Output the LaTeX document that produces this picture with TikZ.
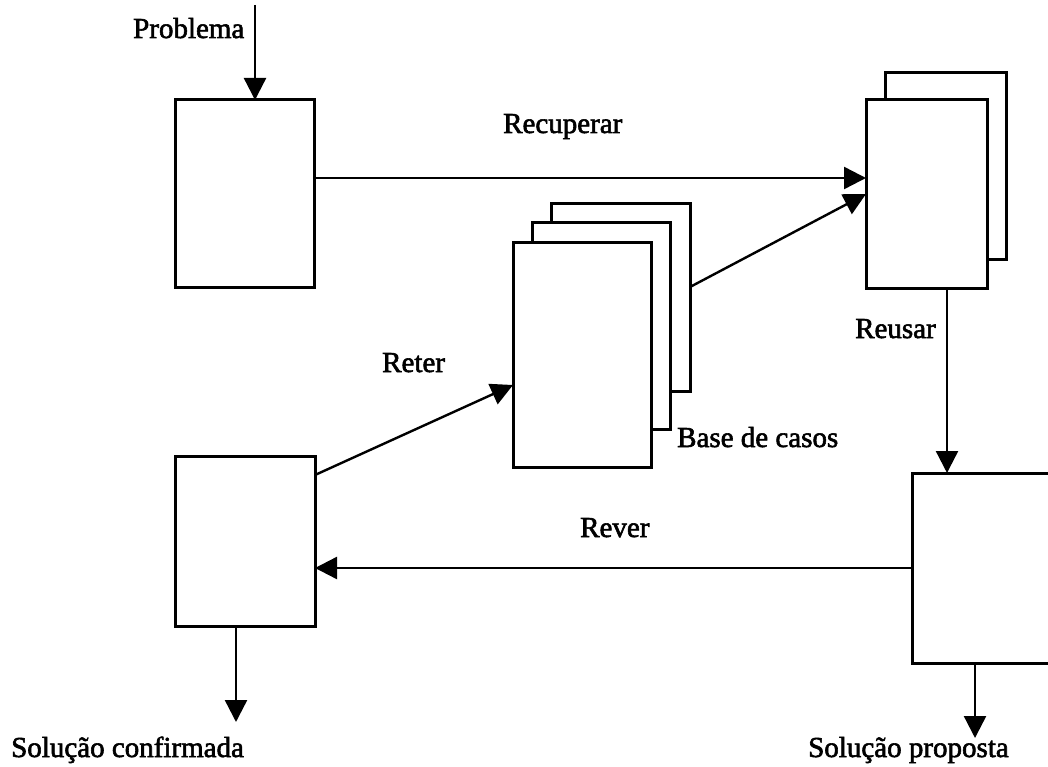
\documentclass[tikz,border=0pt]{standalone}
\usepackage{fontspec}
\setmainfont{Liberation Serif}
\newfontfamily\labelfont[FakeBold=2]{Liberation Serif}
\usetikzlibrary{arrows.meta,calc}
\begin{document}
\begin{tikzpicture}[x=1pt,y=-1pt,
  card/.style={draw,fill=white,line width=3pt,inner sep=0pt,outer sep=0pt},
  arr/.style={line width=2.4pt,-{Triangle[length=22pt,width=22pt]}},
  lbl/.style={anchor=base west,inner sep=0pt,font=\labelfont\fontsize{29}{34}\selectfont}]
\useasboundingbox (0,0) rectangle (1048,767);
\clip (0,0) rectangle (1048,767);

% problem case
\node[card,minimum width=139pt,minimum height=187pt] (prob) at (244.5,193.5) {};
% retrieved cases (two sheets)
\node[card,minimum width=121pt,minimum height=186pt] (retB) at (945.5,166) {};
\node[card,minimum width=121pt,minimum height=188pt] (ret) at (926.5,194) {};
% case base (three sheets)
\node[card,minimum width=139pt,minimum height=187pt] (baseC) at (620.5,297.5) {};
\node[card,minimum width=138pt,minimum height=206pt] (baseB) at (601,326) {};
\node[card,minimum width=138pt,minimum height=225pt] (base) at (582,354.5) {};
% confirmed and proposed solutions
\node[card,minimum width=140pt,minimum height=170pt] (conf) at (245,541) {};
\node[card,minimum width=158pt,minimum height=190pt] (prop) at (991,568) {};

% free ends
\coordinate (pin) at (255,5);
\coordinate (confout) at (236,722);
\coordinate (propout) at (975,738);

% connectors
\draw[arr] (pin) -- (pin |- prob.north);
\draw[arr] ([yshift=15.5pt]prob.east) -- ([yshift=15.5pt]prob.east -| ret.west);
\draw[arr] ([yshift=10.5pt]baseC.east) -- (ret.west);
\draw[arr] ([xshift=20.5pt]ret.south) -- ([xshift=20.5pt]ret.south |- prop.north);
\draw[arr] (prop.west) -- (prop.west -| conf.east);
\draw[arr] ([yshift=66pt]conf.east) -- ([yshift=-30.5pt]base.west);
\draw[arr] (confout |- conf.south) -- (confout);
\draw[arr] (propout |- prop.south) -- (propout);

% labels
\node[lbl] (tProb) at (133,38) {Problema};
\node[lbl] (tRec) at (503,133) {Recuperar};
\node[lbl] (tBase) at (677,447) {Base de casos};
\node[lbl] (tReter) at (382,372) {Reter};
\node[lbl] (tReusar) at (855,338) {Reusar};
\node[lbl] (tRever) at (580,537) {Rever};
\node[lbl] (tConf) at (11,757) {Solução confirmada};
\node[lbl] (tProp) at (808,757) {Solução proposta};
\end{tikzpicture}
\end{document}
